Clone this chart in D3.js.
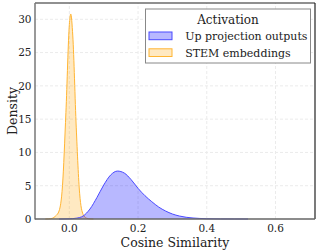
<!DOCTYPE html>
<html>
<head>
<meta charset="utf-8">
<script src="https://cdn.jsdelivr.net/npm/d3@7"></script>
<style>
	body { margin: 0; background: #fff; }
</style>
</head>
<body>
<div id="vis"></div>
<script>
// density curves
var stemX = [-0.07, -0.06, -0.05, -0.04, -0.03, -0.02, -0.01, 0.0, 0.004, 0.01, 0.02, 0.03, 0.04, 0.05, 0.06, 0.07];
var stemY = [0, 0.02, 0.1, 0.45, 1.2, 5.0, 16.0, 29.2, 30.8, 27.5, 13.8, 3.8, 0.7, 0.12, 0.02, 0];

var upX = [-0.03, 0.0, 0.02, 0.04, 0.06, 0.08, 0.10, 0.12, 0.14, 0.16, 0.18, 0.20, 0.22, 0.24, 0.26, 0.28, 0.30, 0.32, 0.34, 0.36, 0.38, 0.40, 0.44, 0.48, 0.52];
var upY = [0, 0.03, 0.12, 0.45, 1.5, 3.2, 5.1, 6.6, 7.2, 6.9, 5.9, 4.6, 3.5, 2.6, 1.8, 1.2, 0.75, 0.45, 0.26, 0.15, 0.08, 0.04, 0.01, 0.003, 0];

var xTicks = [0.0, 0.2, 0.4, 0.6];
var yTicks = [0, 5, 10, 15, 20, 25, 30];
var legendLabels = ["Up projection outputs", "STEM embeddings"];

var w = 319, h = 252;
var margin = {left: 35, right: 4, top: 3, bottom: 33};
var font = "'DejaVu Serif', serif";

var svg = d3.select("#vis").append("svg")
.attr("width", w)
.attr("height", h)
.attr("font-family", font);

var x = d3.scaleLinear()
.domain([-0.1, 0.715])
.range([margin.left, w - margin.right]);

var y = d3.scaleLinear()
.domain([0, 32.45])
.range([h - margin.bottom, margin.top]);

//grid first so the curves sit on top
var grid = svg.append("g");

grid.selectAll(".gx")
.data(xTicks)
.enter()
.append("line")
.attr("x1", function (d) { return x(d); })
.attr("x2", function (d) { return x(d); })
.attr("y1", y.range()[0])
.attr("y2", y.range()[1])
.attr("stroke", "#ebebeb")
.attr("stroke-dasharray", "3,2");

grid.selectAll(".gy")
.data(yTicks.slice(1))
.enter()
.append("line")
.attr("x1", x.range()[0])
.attr("x2", x.range()[1])
.attr("y1", function (d) { return y(d); })
.attr("y2", function (d) { return y(d); })
.attr("stroke", "#ebebeb")
.attr("stroke-dasharray", "3,2");

var area = d3.area()
.x(function (d) { return x(d[0]); })
.y0(y(0))
.y1(function (d) { return y(d[1]); })
.curve(d3.curveMonotoneX);

var line = d3.line()
.x(function (d) { return x(d[0]); })
.y(function (d) { return y(d[1]); })
.curve(d3.curveMonotoneX);

var series = [
	{id: "stem", pts: d3.zip(stemX, stemY), fill: "#ffa500", stroke: "#ffb533"},
	{id: "up", pts: d3.zip(upX, upY), fill: "#0000ff", stroke: "#4a4aff"}
];

var curves = svg.append("g").selectAll(".curve")
.data(series)
.enter()
.append("g");

curves.append("path")
.attr("d", function (d) { return area(d.pts); })
.attr("fill", function (d) { return d.fill; })
.attr("fill-opacity", function (d) { return d.id == "up" ? 0.28 : 0.24; });

curves.append("path")
.attr("d", function (d) { return line(d.pts); })
.attr("fill", "none")
.attr("stroke", function (d) { return d.stroke; })
.attr("stroke-width", 1);

// frame
var x0 = x.range()[0], x1 = x.range()[1], y0 = y.range()[0], y1 = y.range()[1];
svg.append("line").attr("x1", x0).attr("x2", x1).attr("y1", y1).attr("y2", y1).attr("stroke", "#222").attr("stroke-width", 1.2);
svg.append("line").attr("x1", x1).attr("x2", x1).attr("y1", y0).attr("y2", y1).attr("stroke", "#222").attr("stroke-width", 1.2);
svg.append("line").attr("x1", x0).attr("x2", x0).attr("y1", y0 + 0.6).attr("y2", y1).attr("stroke", "#777").attr("stroke-width", 1.5);
svg.append("line").attr("x1", x0).attr("x2", x1).attr("y1", y0).attr("y2", y0).attr("stroke", "#666").attr("stroke-width", 1.5);

// tick labels
svg.selectAll(".xt")
.data(xTicks)
.enter()
.append("text")
.attr("x", function (d) { return x(d); })
.attr("y", 232)
.attr("text-anchor", "middle")
.attr("font-size", 10.5)
.attr("fill", "#222")
.text(function (d) { return d3.format(".1f")(d); });

svg.selectAll(".yt")
.data(yTicks)
.enter()
.append("text")
.attr("x", 31.5)
.attr("y", function (d) { return y(d) + 3.8; })
.attr("text-anchor", "end")
.attr("font-size", 10.5)
.attr("fill", "#222")
.text(function (d) { return d; });

svg.append("text")
.attr("x", (x0 + x1) / 2)
.attr("y", 246.5)
.attr("text-anchor", "middle")
.attr("font-size", 12.5)
.attr("fill", "#222")
.text("Cosine Similarity");

svg.append("text")
.attr("transform", "translate(16.5," + ((y0 + y1) / 2) + ") rotate(-90)")
.attr("text-anchor", "middle")
.attr("font-size", 12.5)
.attr("fill", "#222")
.text("Density");

// legend
var leg = svg.append("g").attr("transform", "translate(145.5,9)");

leg.append("rect")
.attr("width", 165)
.attr("height", 54)
.attr("fill", "#fff")
.attr("stroke", "#888")
.attr("stroke-width", 1);

leg.append("text")
.attr("x", 82.5)
.attr("y", 14.5)
.attr("text-anchor", "middle")
.attr("font-size", 12)
.attr("fill", "#222")
.text("Activation");

var items = leg.selectAll(".key")
.data([series[1], series[0]])
.enter()
.append("g")
.attr("transform", function (d, i) { return "translate(3.5," + (23 + i * 16.8) + ")"; });

items.append("rect")
.attr("width", 23)
.attr("height", 7.7)
.attr("fill", function (d) { return d.fill; })
.attr("fill-opacity", function (d) { return d.id == "up" ? 0.28 : 0.24; })
.attr("stroke", function (d) { return d.stroke; })
.attr("stroke-width", 1);

items.append("text")
.attr("x", 36.2)
.attr("y", 8)
.attr("font-size", 11)
.attr("fill", "#222")
.text(function (d, i) { return legendLabels[i]; });
</script>
</body>
</html>
